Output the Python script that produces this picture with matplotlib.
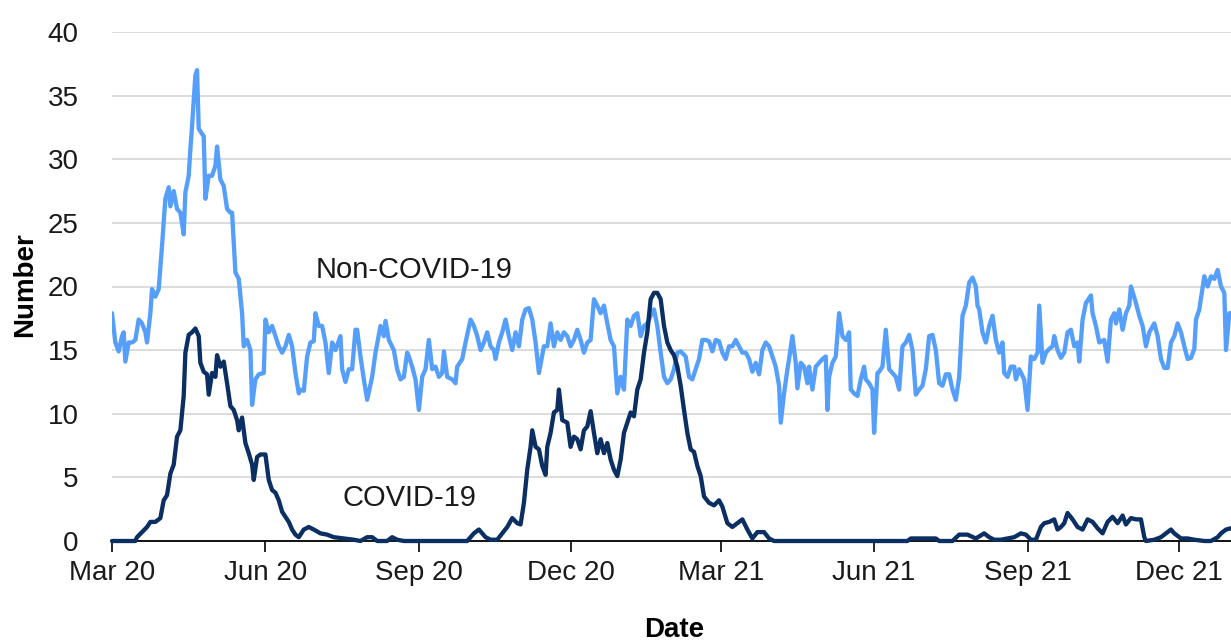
import matplotlib
matplotlib.use("Agg")
import matplotlib.pyplot as plt
import pandas as pd

# Daily deaths
# (day offsets count from 1 March 2020)
START = pd.Timestamp("2020-03-01")

non_covid_days = [
    0, 2, 4, 6, 7, 8, 10, 12, 14, 16, 18, 20, 21, 23, 24, 26, 28, 30, 32, 34, 35, 37, 39, 41, 43, 44,
    46, 47, 48, 50, 51, 52, 54, 55, 56, 58, 60, 62, 63, 65, 67, 69, 71, 72, 74, 76, 78, 79, 81, 83,
    84, 86, 88, 91, 92, 94, 96, 98, 100, 102, 104, 106, 108, 110, 112,
    113, 115, 117, 119, 121, 122, 124, 126, 128, 130, 132, 134, 137, 138, 140, 142, 144, 146, 147,
    149, 151, 153, 156, 158, 161, 163, 164, 166, 169, 171, 173, 175, 177, 178, 180, 182, 184, 186,
    188, 190, 192, 194, 196, 198, 199, 201, 204, 206, 207, 210, 212, 215, 217, 219,
    221, 223, 225, 227, 229, 230, 232, 234, 236, 238, 240, 242, 244, 246, 248, 250, 252, 254, 256,
    259, 261, 263, 265, 267, 269, 271, 273, 275, 277, 279, 281, 283, 285, 287, 289, 291, 293, 295,
    297, 299, 301, 303, 305, 307, 309, 311, 313, 315, 317, 319, 321, 323, 325, 327, 329, 331, 333,
    335, 337, 339, 341, 344, 346, 348, 350, 352, 354, 356, 358, 360, 362, 364, 366, 368, 370, 372,
    374, 376, 378, 380, 382, 384, 386, 388, 390, 392, 394, 396, 398, 400, 401, 403, 405, 406, 408,
    410, 411, 413, 415, 417, 418, 420, 422, 424, 426, 428, 429, 430, 432, 434, 436, 438, 440, 442,
    443, 445, 447,
    449, 451, 452, 454, 456, 457, 459, 460, 462, 464, 466, 468, 470, 472, 474, 476, 478, 480, 482,
    484, 486, 488, 490, 492, 494, 496, 498, 500, 502, 504, 506, 508, 510, 512, 514, 516, 518, 519,
    520, 522, 524, 526, 528, 530, 532, 534, 535, 537, 539, 541, 542, 544, 547, 549, 551, 553, 555, 556,
    558, 560, 562, 564, 565, 567, 569, 571, 573, 575, 577, 579, 580, 582, 584, 587, 588, 590, 592,
    595, 597, 599, 601, 602, 604, 606, 608, 610, 611, 614, 616, 618, 620, 622, 625, 627, 629, 631,
    633, 635, 637, 639, 641, 643, 645, 647, 649, 650, 652, 655, 657, 659, 661, 663, 665, 667, 668,
    670, 671,
]
non_covid_vals = [
    17.9, 15.6, 14.9, 16.1, 16.4, 14.1, 15.6, 15.6, 15.8, 17.4, 17.1, 16.4, 15.6, 17.9, 19.8, 19.2,
    19.8, 23.2, 26.9, 27.8, 26.3, 27.5, 26.1, 25.8, 24.1, 27.4, 28.7, 30.8, 32.6, 36.6, 37.0, 32.4,
    32.0, 31.8, 26.9, 28.7, 28.7, 29.5, 31.0, 28.4, 27.9, 26.1, 25.8, 25.8, 21.1, 20.6, 17.9, 15.3,
    15.8, 15.0, 10.7, 12.7, 13.1, 13.2, 17.4, 16.4, 16.9, 16.1, 15.3, 14.8, 15.3, 16.2, 15.3, 13.2,
    11.6,
    11.9, 11.8, 14.5, 15.6, 15.7, 17.9, 16.9, 16.9, 15.6, 13.2, 15.6, 15.0, 16.1, 13.5, 12.5, 13.5,
    13.5, 16.6, 16.6, 14.5, 12.7, 11.1, 12.9, 14.8, 16.9, 16.1, 17.3, 15.8, 15.0, 13.5, 12.7, 12.9,
    14.8, 14.5, 13.7, 12.7, 10.3, 12.9, 13.5, 15.8, 13.5, 13.7, 12.9, 13.2, 14.9, 12.9, 12.7, 12.4,
    13.7, 14.3, 15.6, 17.4, 16.9, 16.1,
    15.0, 15.6, 16.4, 15.3, 15.0, 14.3, 15.6, 16.4, 17.4, 16.1, 15.0, 16.4, 15.3, 17.4, 18.2, 18.3,
    17.4, 15.6, 13.2, 15.3, 15.3, 17.1, 15.3, 16.4, 15.8, 16.4, 16.1, 15.3, 15.8, 16.6, 15.8, 14.8,
    15.6, 15.8, 19.0, 18.5, 17.9, 18.5, 17.1, 15.8, 15.3, 11.6, 12.9, 11.9, 17.4, 16.9, 17.7, 17.9,
    16.1, 16.9, 17.1, 17.7, 18.2, 16.9, 14.8, 12.9, 12.4,
    12.7, 13.5, 14.8, 14.9, 14.5, 12.9, 12.7, 13.5, 14.3, 15.8, 15.8, 15.7, 14.9, 15.8, 15.7, 14.8,
    14.3, 15.3, 15.3, 15.8, 15.3, 14.8, 14.8, 14.3, 13.3, 14.0, 13.1, 15.0, 15.6, 15.3, 14.5, 13.7,
    12.2, 9.3, 11.6, 13.5, 14.3, 16.1, 14.0, 12.0, 14.0, 13.7, 12.4, 13.7, 11.9, 13.7, 14.0, 14.3,
    14.5, 10.3, 12.9, 14.0, 14.5, 17.9, 16.1, 15.8, 16.4, 11.9, 11.6, 11.4,
    12.7, 13.7, 12.7, 12.4, 11.9, 8.5, 13.2, 13.3, 13.7, 16.6, 13.5, 13.2, 12.9, 11.9, 15.3, 15.6,
    16.2, 15.0, 11.5, 11.9, 12.2, 13.5, 16.1, 16.2, 15.0, 12.4, 12.2, 13.1, 13.1, 11.9, 11.1, 12.9,
    17.7, 18.5, 20.3, 20.7, 20.0, 18.5, 18.2, 16.4, 15.6, 16.9, 17.7, 15.8, 14.8, 15.6, 13.2, 12.9,
    13.7, 13.7, 12.7, 13.5, 12.7, 10.3, 14.5, 14.3, 14.8, 18.5,
    14.0, 14.8, 15.1, 15.3, 16.1, 15.0, 14.4, 14.8, 16.4, 16.6, 15.3, 15.6, 14.1, 17.4, 18.7, 19.3,
    17.9, 16.9, 15.6, 15.8, 14.1, 17.4, 17.9, 17.1, 18.2, 16.6, 17.9, 18.5, 20.0, 18.7, 17.7, 16.9,
    15.3, 16.4, 17.1, 16.1, 14.3, 13.6, 13.6, 15.6, 16.1, 17.1, 16.4, 15.3, 14.3, 14.4, 15.1, 17.4,
    18.2, 20.8, 20.0, 20.8, 20.6, 21.3, 20.0, 19.5, 15.0, 17.9, 17.9,
]

covid_days = [
    0, 14, 15, 18, 21, 23, 26, 29, 31, 33, 35, 37, 39, 41, 43, 44, 46, 48, 50, 52, 53, 55, 57, 58,
    60, 62, 63, 65, 67, 69, 71, 73, 75, 76, 78, 80, 82, 84, 85, 87, 89, 92, 94, 96, 98, 100, 102,
    104, 106, 108, 110, 112, 115, 118, 121, 125, 129, 133, 139, 145, 149, 153, 156, 159, 165, 168,
    171, 175, 187, 207, 213, 217, 220, 224, 227, 231, 234, 237, 240, 243, 245, 247, 249, 251, 252,
    254, 256, 258, 260, 261, 263, 265, 267, 268, 270, 273, 275, 277, 279, 281, 283, 285, 287, 289,
    291, 293, 295, 297, 299, 301, 303, 305, 307, 309, 311, 313, 315, 317, 319, 321, 323, 325, 327,
    329, 331, 333, 335, 337, 339, 341, 343, 345, 347, 349, 351, 353, 355, 358, 361, 364, 366, 369,
    372, 375, 378, 381, 384, 387, 391, 394, 397, 477, 479, 494, 496, 504, 508, 513, 518, 523, 526,
    529, 533, 537, 541, 545, 548, 551, 554, 557, 559, 562, 565, 567, 569, 571, 573, 576, 579, 582,
    585, 588, 591, 594, 597, 600, 603, 606, 608, 611, 614, 617, 619, 620, 625, 629, 632, 635, 637,
    641, 645, 649, 655, 659, 663, 665, 668, 671,
]
covid_vals = [
    0, 0, 0.3, 0.7, 1.1, 1.5, 1.5, 1.8, 3.2, 3.6, 5.3, 6.0, 8.2, 8.7, 11.4, 14.8, 16.2, 16.4, 16.7,
    16.1, 14.0, 13.3, 13.1, 11.5, 13.2, 12.9, 14.6, 13.7, 14.1, 12.4, 10.6, 10.3, 9.5, 8.7, 9.7,
    7.7, 6.9, 6.0, 4.8, 6.6, 6.8, 6.8, 4.8, 4.0, 3.8, 3.2, 2.3, 1.9, 1.5, 0.9, 0.5, 0.3, 0.9, 1.1,
    0.9, 0.6, 0.5, 0.3, 0.2, 0.1, 0, 0.3, 0.3, 0, 0, 0.3, 0.1, 0, 0, 0, 0, 0.6, 0.9, 0.3, 0.1, 0.1,
    0.6, 1.1, 1.8, 1.4, 1.3, 3.0, 5.6, 7.4, 8.7, 7.4, 7.2, 5.9, 5.2, 7.4, 8.5, 10.1, 10.3, 11.9,
    9.5, 9.3, 7.4, 8.2, 8.0, 7.2, 8.7, 9.0, 10.2, 8.5, 6.9, 8.0, 6.9, 7.7, 6.4, 5.6, 5.1, 6.4, 8.5,
    9.3, 10.1, 9.8, 11.9, 12.7, 14.8, 16.4, 19.0, 19.5, 19.5, 19.0, 16.9, 15.6, 15.0, 14.6, 13.7,
    12.2, 10.3, 8.5, 7.2, 7.0, 5.9, 5.1, 3.5, 3.0, 2.8, 3.2, 2.7, 1.4, 1.1, 1.4, 1.7, 0.9, 0.2, 0.7,
    0.7, 0.2, 0, 0, 0.2, 0.2, 0, 0, 0.5, 0.5, 0.2, 0.6, 0.3, 0.1, 0.1, 0.2, 0.3, 0.6, 0.5, 0.1, 0.1,
    1.1, 1.4, 1.5, 1.7, 0.9, 1.1, 1.4, 2.2, 1.7, 1.1, 0.9, 1.7, 1.5, 1.0, 0.6, 1.5, 1.9, 1.4, 2.0,
    1.3, 1.8, 1.7, 1.7, 0.3, 0, 0.1, 0.3, 0.6, 0.9, 0.6, 0.2, 0.2, 0.1, 0, 0, 0.3, 0.6, 0.9, 1.0,
]

tick_dates = ["2020-03-01", "2020-06-01", "2020-09-01", "2020-12-01",
              "2021-03-01", "2021-06-01", "2021-09-01", "2021-12-01"]
tick_labels = ["Mar 20", "Jun 20", "Sep 20", "Dec 20",
               "Mar 21", "Jun 21", "Sep 21", "Dec 21"]
y_ticks = [0, 5, 10, 15, 20, 25, 30, 35, 40]

LIGHT = "#559ffa"
DARK = "#0b2f63"
FONT = "Liberation Sans"


def main():
    plt.rcParams["font.family"] = FONT

    nc_x = START + pd.to_timedelta(non_covid_days, unit="D")
    cv_x = START + pd.to_timedelta(covid_days, unit="D")

    fig = plt.figure(figsize=(12.31, 6.42), dpi=100)
    ax = fig.add_axes([112 / 1231, 1 - 541 / 642, 1 - 112 / 1231, (541 - 32) / 642])

    ax.plot(nc_x, non_covid_vals, color=LIGHT, lw=3.1, zorder=3,
            solid_joinstyle="round", solid_capstyle="round")
    ax.plot(cv_x, covid_vals, color=DARK, lw=3.1, zorder=4, clip_on=False,
            solid_joinstyle="round", solid_capstyle="round")

    ax.set_ylim(0, 40)
    ax.set_xlim(START, START + pd.Timedelta(days=671))
    ax.set_yticks(y_ticks)
    ax.set_xticks(pd.to_datetime(tick_dates))
    ax.set_xticklabels(tick_labels)

    ax.grid(axis="y", color="#d9d9d9", lw=1.3, zorder=0)
    ax.set_axisbelow(True)
    for side in ["top", "right", "left"]:
        ax.spines[side].set_visible(False)
    ax.spines["bottom"].set_color("black")
    ax.spines["bottom"].set_linewidth(1.3)

    ax.tick_params(axis="y", length=0, pad=24, labelsize=20, labelcolor="#1a1a1a")
    ax.tick_params(axis="x", length=8, width=1.2, pad=6, labelsize=20,
                   labelcolor="#1a1a1a", direction="out")

    ax.text(START + pd.Timedelta(days=122), 21.3, "Non-COVID-19",
            fontsize=21, color="#1a1a1a", va="center", ha="left")
    ax.text(START + pd.Timedelta(days=138), 3.4, "COVID-19",
            fontsize=21, color="#1a1a1a", va="center", ha="left")

    fig.text(25 / 1231, 1 - 285 / 642, "Number", rotation=90, fontsize=20,
             fontweight="bold", ha="center", va="center", color="black")
    fig.text(674 / 1231, 1 - 630 / 642, "Date", fontsize=20,
             fontweight="bold", ha="center", va="center", color="black")

    fig.savefig("out.png", dpi=100)


if __name__ == "__main__":
    main()
